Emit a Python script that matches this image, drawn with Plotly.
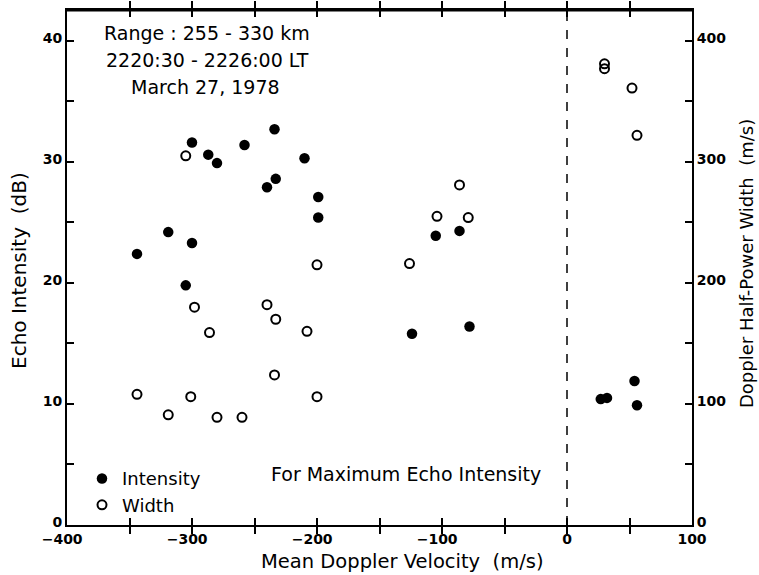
import plotly.graph_objects as go

# Mean Doppler velocity (m/s) for each range/time sample
velocity = [-344, -319, -300, -300, -305, -287, -280, -258, -234, -240, -233, -210,
            -199, -199, -124, -105, -86, -78, 27, 32, 54, 56]
# Echo intensity (dB) -- filled circles
intensity_db = [22.4, 24.2, 31.6, 23.3, 19.8, 30.6, 29.9, 31.4, 32.7, 27.9, 28.6, 30.3,
                27.1, 25.4, 15.8, 23.9, 24.3, 16.4, 10.4, 10.5, 11.9, 9.9]

# Doppler half-power width (m/s) -- open circles
width_velocity = [-344, -319, -301, -298, -305, -286, -280, -260, -240, -234, -233, -208,
                  -200, -200, -126, -104, -86, -79, 30, 30, 52, 56]
width_ms = [108, 91, 106, 180, 305, 159, 89, 89, 182, 124, 170, 160,
            215, 106, 216, 255, 281, 254, 381, 377, 361, 322]

FS = "\u2007"  # figure space keeps the digits centred under the tick
x_ticks = [-400, -350, -300, -250, -200, -150, -100, -50, 0, 50, 100]
x_labels = ["\u2212400" + FS, "", "\u2212300" + FS, "", "\u2212200" + FS, "",
            "\u2212100" + FS, "", "0", "", "100"]
y_ticks = [0, 5, 10, 15, 20, 25, 30, 35, 40]
y_labels = ["0", "", "10", "", "20", "", "30", "", "40"]
y2_ticks = [0, 50, 100, 150, 200, 250, 300, 350, 400]
y2_labels = ["0", "", "100", "", "200", "", "300", "", "400"]

FONT = "DejaVu Sans"
W, H = 759, 575
ML, MR, MT, MB = 67, 67, 8, 50
PW, PH = W - ML - MR, H - MT - MB


def px(xp):
    return (xp - ML) / PW


def py(yp):
    return (H - MB - yp) / PH


fig = go.Figure()
fig.add_trace(go.Scatter(
    x=velocity, y=intensity_db, mode="markers", name="Intensity",
    marker=dict(symbol="circle", size=10.5, color="black"),
))
fig.add_trace(go.Scatter(
    x=width_velocity, y=width_ms, mode="markers", name="Width", yaxis="y2",
    marker=dict(symbol="circle-open", size=9, color="black", line=dict(width=2, color="black")),
))

tickfont = dict(family=FONT, size=14, color="black", weight="bold")

fig.update_layout(
    width=W, height=H,
    margin=dict(l=ML, r=MR, t=MT, b=MB),
    paper_bgcolor="white", plot_bgcolor="white",
    showlegend=True,
    legend=dict(x=px(82), y=py(460), xanchor="left", yanchor="top",
                bgcolor="rgba(0,0,0,0)", font=dict(family=FONT, size=18, color="black"),
                itemwidth=30, tracegroupgap=0),
    xaxis=dict(range=[-400, 100], tickmode="array", tickvals=x_ticks, ticktext=x_labels,
               ticks="inside", ticklen=7, tickwidth=1.5, tickcolor="black",
               showline=True, linewidth=2, linecolor="black", mirror="allticks",
               showgrid=False, zeroline=False, tickfont=tickfont),
    yaxis=dict(range=[0, 42.55], tickmode="array", tickvals=y_ticks, ticktext=y_labels,
               ticks="inside", ticklen=7, tickwidth=1.5, tickcolor="black",
               showline=True, linewidth=2, linecolor="black", mirror=False,
               showgrid=False, zeroline=False, tickfont=tickfont, ticklabelshift=-3),
    yaxis2=dict(range=[0, 425.5], overlaying="y", side="right", tickmode="array",
                tickvals=y2_ticks, ticktext=y2_labels,
                ticks="inside", ticklen=7, tickwidth=1.5, tickcolor="black",
                showline=True, linewidth=2, linecolor="black",
                showgrid=False, zeroline=False, tickfont=tickfont, ticklabelshift=-3),
)

# thicker top frame line
fig.add_shape(type="line", xref="paper", yref="paper", x0=0, x1=1, y0=1, y1=1,
              line=dict(color="black", width=3))
fig.add_shape(type="line", xref="x", yref="paper", x0=0, x1=0, y0=0, y1=1,
              line=dict(color="black", width=1.5, dash="dash"))

ann_font = dict(family=FONT, size=19, color="black")
anns = [
    ("Range : 255 - 330 km", 207, 31),
    ("2220:30 - 2226:00 LT", 207, 58),
    ("March 27, 1978", 205, 85),
    ("For Maximum Echo Intensity", 406, 474),
]
for text, xp, yp in anns:
    fig.add_annotation(text=text, xref="paper", yref="paper", x=px(xp), y=py(yp),
                       xanchor="center", yanchor="middle", showarrow=False, font=ann_font)

title_font = dict(family=FONT, size=20, color="black")
fig.add_annotation(text="Mean Doppler Velocity  (m/s)", xref="paper", yref="paper",
                   x=px(402), y=py(562), xanchor="center", yanchor="middle",
                   showarrow=False, font=dict(family=FONT, size=19.5, color="black"))
fig.add_annotation(text="Echo Intensity  (dB)", xref="paper", yref="paper",
                   x=px(19), y=py(270), xanchor="center", yanchor="middle", textangle=-90,
                   showarrow=False, font=title_font)
fig.add_annotation(text="Doppler Half-Power Width  (m/s)", xref="paper", yref="paper",
                   x=px(746), y=py(263), xanchor="center", yanchor="middle", textangle=-90,
                   showarrow=False, font=dict(family=FONT, size=18, color="black"))

fig.write_html("out.html")
